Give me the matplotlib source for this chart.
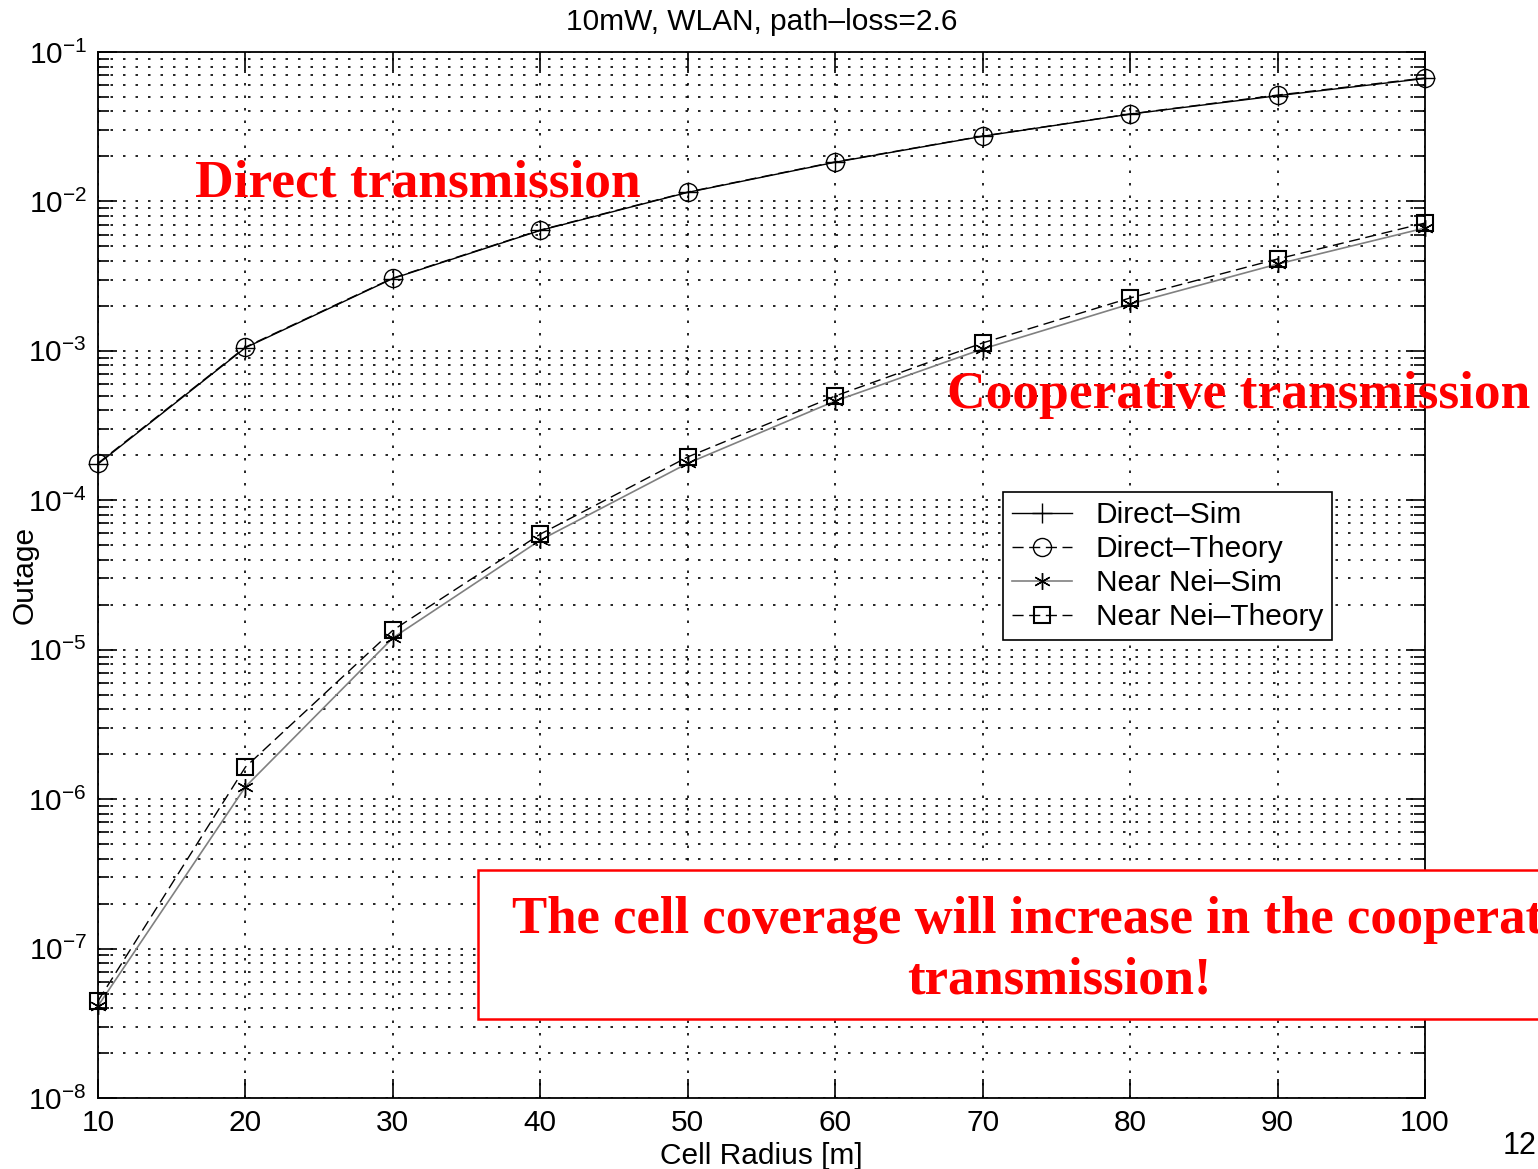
import numpy as np
import matplotlib.pyplot as plt
from matplotlib.patches import Rectangle
from matplotlib.ticker import LogLocator, NullFormatter

radius = [10, 20, 30, 40, 50, 60, 70, 80, 90, 100]
direct_sim = [1.75e-4, 1.05e-3, 3.05e-3, 6.4e-3, 1.15e-2, 1.83e-2, 2.73e-2, 3.84e-2, 5.1e-2, 6.65e-2]
direct_theory = [1.77e-4, 1.06e-3, 3.07e-3, 6.44e-3, 1.156e-2, 1.84e-2, 2.74e-2, 3.85e-2, 5.15e-2, 6.7e-2]
near_sim = [4.13e-8, 1.21e-6, 1.2e-5, 5.42e-5, 1.77e-4, 4.62e-4, 1.03e-3, 2.06e-3, 3.81e-3, 6.64e-3]
near_theory = [4.46e-8, 1.64e-6, 1.35e-5, 5.94e-5, 1.95e-4, 4.99e-4, 1.13e-3, 2.26e-3, 4.12e-3, 7.17e-3]

plt.rcParams['font.family'] = ['Liberation Sans', 'DejaVu Sans']
plt.rcParams['mathtext.fontset'] = 'custom'
plt.rcParams['mathtext.rm'] = 'Liberation Sans'
plt.rcParams['mathtext.it'] = 'Liberation Sans:italic'

fs = 21.5
fig = plt.figure(figsize=(15.38, 11.69), dpi=100)
ax = fig.add_axes([0.0637, 0.0607, 0.8628, 0.8948])

ax.semilogy(radius, direct_sim, '-', color='black', lw=1.0, marker='+', ms=15, mew=1.0,
            clip_on=False, label='Direct\u2013Sim')
ax.semilogy(radius, direct_theory, '--', color='black', lw=1.0, dashes=(8, 4), marker='o', ms=13,
            mfc='none', mew=1.0, clip_on=False, label='Direct\u2013Theory')
ax.semilogy(radius, near_sim, '-', color='gray', lw=1.2, marker=(6, 2, 0), ms=12, mew=1.0,
            mec='black', clip_on=False, label='Near Nei\u2013Sim')
ax.semilogy(radius, near_theory, '--', color='black', lw=1.0, dashes=(8, 4), marker='s', ms=11,
            mfc='none', mew=1.5, clip_on=False, label='Near Nei\u2013Theory')

ax.set_xlim(10, 100)
ax.set_ylim(1e-8, 1e-1)
ax.set_xticks(radius)
ax.yaxis.set_major_locator(LogLocator(base=10, numticks=20))
ax.yaxis.set_minor_locator(LogLocator(base=10, subs=np.arange(2, 10), numticks=20))
ax.yaxis.set_minor_formatter(NullFormatter())
ax.tick_params(which='both', direction='in', top=True, right=True, labelsize=fs, pad=8)
ax.tick_params(which='major', length=14, width=1.2)
ax.tick_params(which='minor', length=8, width=1.2)
ax.grid(True, which='major', ls=(0, (1.5, 6)), color='black', lw=1.2)
ax.grid(True, which='minor', axis='y', ls=(0, (1.5, 6)), color='black', lw=1.2)
for s in ax.spines.values():
    s.set_linewidth(1.3)

ax.set_title('10mW, WLAN, path\u2013loss=2.6', fontsize=fs, pad=16)
ax.set_xlabel('Cell Radius [m]', fontsize=fs)
ax.xaxis.set_label_coords(0.5, -0.042)
ax.set_ylabel('Outage', fontsize=fs)
ax.yaxis.set_label_coords(-0.045, 0.5)

leg = ax.legend(loc='upper left', bbox_to_anchor=(0.682, 0.579), borderaxespad=0, fontsize=fs,
                frameon=True, fancybox=False, edgecolor='black', framealpha=1, handlelength=2.0,
                borderpad=0.3, labelspacing=0.2)
leg.get_frame().set_linewidth(1.2)

serif = ['Liberation Serif', 'DejaVu Serif']
fig.text(0.127, 0.843, 'Direct transmission', color='red', fontsize=38.5, fontweight='bold',
         family=serif, va='center', ha='left')
fig.text(0.616, 0.662, 'Cooperative transmission', color='red', fontsize=38.5, fontweight='bold',
         family=serif, va='center', ha='left')

# red box, runs off the right edge of the slide
box = Rectangle((0.3108, 0.1283), 0.75, 0.1275, transform=fig.transFigure,
                fc='white', ec='red', lw=1.8, zorder=5)
fig.patches.append(box)
fig.text(0.689, 0.187, 'The cell coverage will increase in the cooperative\ntransmission!', color='red',
         fontsize=38, fontweight='bold', family=serif, va='center', ha='center', linespacing=1.35,
         zorder=6)
fig.text(0.977, 0.02, '12', fontsize=22, ha='left', va='center')

fig.savefig('out.png', dpi=100)
